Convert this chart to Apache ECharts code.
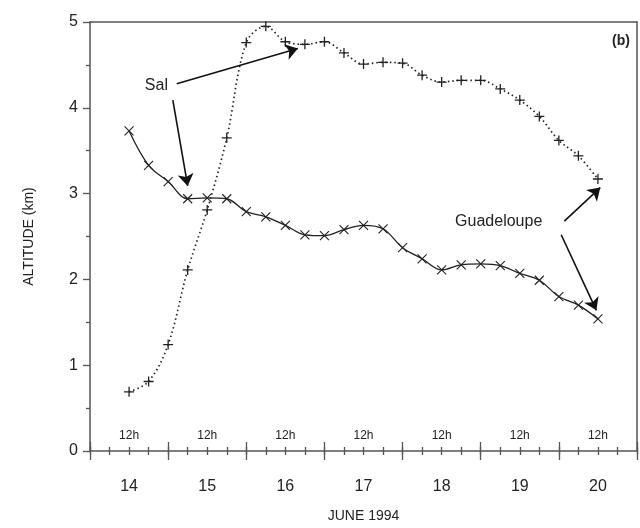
<!DOCTYPE html>
<html>
<head>
<meta charset="utf-8">
<script src="https://cdn.jsdelivr.net/npm/echarts@6/dist/echarts.min.js"></script>
<style>
html,body{margin:0;padding:0;background:#fff;}
#c{width:640px;height:528px;}
</style>
</head>
<body>
<div id="c"></div>
<script>
// Time in days of June 1994 (6-hourly)
const times = [14.5, 14.75, 15.0, 15.25, 15.5, 15.75, 16.0, 16.25, 16.5, 16.75,
               17.0, 17.25, 17.5, 17.75, 18.0, 18.25, 18.5, 18.75, 19.0, 19.25,
               19.5, 19.75, 20.0, 20.25, 20.5];
// Guadeloupe trajectory (solid, x markers)
const guadeloupe = [3.73, 3.33, 3.14, 2.94, 2.95, 2.94, 2.79, 2.73, 2.63, 2.52,
                    2.51, 2.58, 2.63, 2.59, 2.37, 2.24, 2.11, 2.17, 2.18, 2.16,
                    2.07, 1.99, 1.80, 1.70, 1.54];
// Sal trajectory (dotted, + markers)
const sal = [0.69, 0.81, 1.24, 2.11, 2.81, 3.65, 4.76, 4.95, 4.77, 4.74,
             4.77, 4.64, 4.51, 4.53, 4.52, 4.38, 4.30, 4.32, 4.32, 4.22,
             4.09, 3.90, 3.62, 3.44, 3.17];
const dayLabels = ['14', '15', '16', '17', '18', '19', '20'];
const hourLabel = '12h';

// Annotation arrows (data coordinates) and texts
const salText = {text: 'Sal', at: [14.85, 4.26]};
const salArrows = [[[15.11, 4.28], [16.66, 4.69]], [[15.06, 4.09], [15.25, 3.09]]];
const guaText = {text: 'Guadeloupe', at: [19.23, 2.67]};
const guaArrows = [[[20.07, 2.68], [20.53, 3.07]], [[20.03, 2.52], [20.48, 1.64]]];

const FONT = 'Liberation Sans';
const TXT = '#222';
const AX = '#555';

const chart = echarts.init(document.getElementById('c'), null, {renderer: 'canvas'});

function tickAxis(interval, len, inside) {
  return {
    type: 'value', position: 'bottom', min: 14, max: 21, interval: interval,
    axisLine: {show: false}, splitLine: {show: false}, axisLabel: {show: false},
    axisTick: {show: true, inside: inside, length: len, lineStyle: {color: AX, width: 1.3}}
  };
}

function arrowLines(arrows) {
  return {
    silent: true, symbol: ['none', 'arrow'], symbolSize: 12,
    lineStyle: {color: '#111', width: 1.6, type: 'solid'},
    itemStyle: {color: '#111'},
    label: {show: false},
    emphasis: {disabled: true},
    data: arrows.map(a => [{coord: a[0]}, {coord: a[1]}])
  };
}

function textPoint(t) {
  return {
    silent: true, symbol: 'rect', symbolSize: 1,
    itemStyle: {color: 'rgba(0,0,0,0)'},
    label: {show: true, position: 'inside', fontSize: 16, color: TXT, fontFamily: FONT,
            formatter: p => p.name},
    data: [{name: t.text, coord: t.at}]
  };
}

const option = {
  backgroundColor: '#fff',
  animation: false,
  textStyle: {fontFamily: FONT},
  grid: {left: 90, right: 1, top: 22, bottom: 70, containLabel: false},
  xAxis: [
    {
      type: 'value', position: 'bottom', min: 14, max: 21, interval: 0.5,
      axisLine: {show: true, lineStyle: {color: AX, width: 1.5}},
      axisTick: {show: false}, splitLine: {show: false},
      axisLabel: {
        fontSize: 16, color: TXT, margin: 28, fontFamily: FONT,
        formatter: v => (Math.abs(v % 1 - 0.5) < 1e-6 ? dayLabels[Math.floor(v) - 14] : '')
      },
      name: 'JUNE 1994', nameLocation: 'middle', nameGap: 58,
      nameTextStyle: {fontSize: 14, color: TXT, fontFamily: FONT}
    },
    {
      type: 'value', position: 'bottom', min: 14, max: 21, interval: 0.5,
      axisLine: {show: false}, axisTick: {show: false}, splitLine: {show: false},
      axisLabel: {
        inside: true, fontSize: 12, color: TXT, margin: 9, fontFamily: FONT,
        formatter: v => (Math.abs(v % 1 - 0.5) < 1e-6 ? hourLabel : '')
      }
    },
    tickAxis(0.25, 4, true),
    tickAxis(0.25, 4, false),
    tickAxis(1, 9, true),
    tickAxis(1, 9, false),
    {
      type: 'value', position: 'top', min: 14, max: 21,
      axisLine: {show: true, lineStyle: {color: AX, width: 1.5}},
      axisTick: {show: false}, axisLabel: {show: false}, splitLine: {show: false}
    }
  ],
  yAxis: [
    {
      type: 'value', position: 'left', min: 0, max: 5, interval: 1,
      axisLine: {show: true, lineStyle: {color: AX, width: 1.5}},
      axisTick: {show: true, length: 7, lineStyle: {color: AX, width: 1.3}},
      minorTick: {show: true, splitNumber: 2, length: 4, lineStyle: {color: AX, width: 1.3}},
      splitLine: {show: false}, minorSplitLine: {show: false},
      axisLabel: {fontSize: 16, color: TXT, margin: 12, fontFamily: FONT},
      name: 'ALTITUDE (km)', nameLocation: 'middle', nameGap: 54, nameRotate: 90,
      nameTextStyle: {fontSize: 14, color: TXT, fontFamily: FONT}
    },
    {
      type: 'value', position: 'right', min: 0, max: 5,
      axisLine: {show: true, lineStyle: {color: AX, width: 1.5}},
      axisTick: {show: false}, axisLabel: {show: false}, splitLine: {show: false}
    }
  ],
  graphic: [
    {type: 'text', right: 10, top: 34,
     style: {text: '(b)', fontSize: 14, fontWeight: 'bold', fill: TXT, fontFamily: FONT}}
  ],
  series: [
    {
      name: 'Guadeloupe', type: 'line', xAxisIndex: 0, yAxisIndex: 0,
      data: times.map((t, i) => [t, guadeloupe[i]]),
      smooth: 0.35, showAllSymbol: true,
      symbol: 'path://M0,0L10,10M10,0L0,10', symbolSize: 9,
      lineStyle: {color: '#222', width: 1.3, type: 'solid'},
      itemStyle: {color: '#222', borderColor: '#222', borderWidth: 1.1},
      markLine: arrowLines(guaArrows),
      markPoint: textPoint(guaText)
    },
    {
      name: 'Sal', type: 'line', xAxisIndex: 0, yAxisIndex: 0,
      data: times.map((t, i) => [t, sal[i]]),
      smooth: 0.35, showAllSymbol: true,
      symbol: 'path://M5,0L5,10M0,5L10,5', symbolSize: 10,
      lineStyle: {color: '#222', width: 1.7, type: [1.5, 3]},
      itemStyle: {color: '#222', borderColor: '#222', borderWidth: 1.3},
      markLine: arrowLines(salArrows),
      markPoint: textPoint(salText)
    }
  ]
};
chart.setOption(option);
</script>
</body>
</html>
